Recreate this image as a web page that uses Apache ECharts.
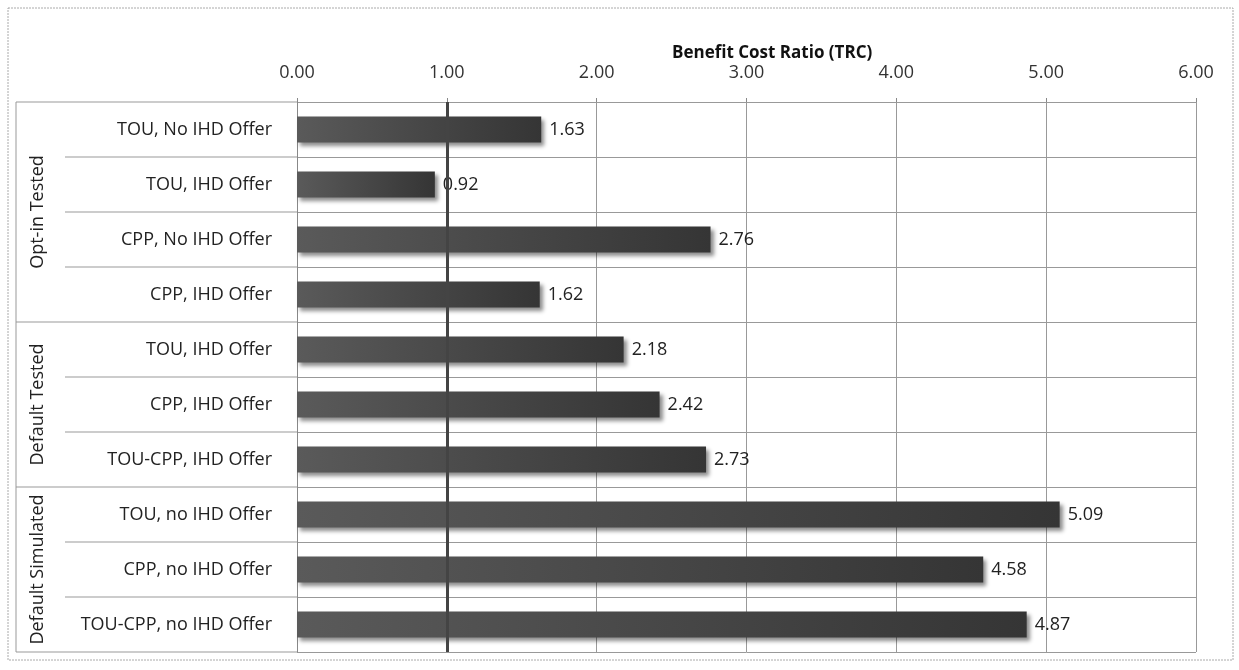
<!DOCTYPE html>
<html>
<head>
<meta charset="utf-8">
<script src="https://cdn.jsdelivr.net/npm/echarts@6/dist/echarts.min.js"></script>
<style>
  html, body { margin: 0; padding: 0; background: #fff; }
  #chart { width: 1239px; height: 670px; }
</style>
</head>
<body>
<div id="chart"></div>
<script>
// categories, top to bottom
var categories = [
  "TOU, No IHD Offer",
  "TOU, IHD Offer",
  "CPP, No IHD Offer",
  "CPP, IHD Offer",
  "TOU, IHD Offer ",
  "CPP, IHD Offer ",
  "TOU-CPP, IHD Offer",
  "TOU, no IHD Offer",
  "CPP, no IHD Offer",
  "TOU-CPP, no IHD Offer"
];
var ratios = [1.63, 0.92, 2.76, 1.62, 2.18, 2.42, 2.73, 5.09, 4.58, 4.87];
var groupNames = ["Opt-in Tested", "Default Tested", "Default Simulated"];
var groupSizes = [4, 3, 3];
var breakEven = 1;

var font = "'Open Sans', 'Noto Sans', sans-serif";
var myChart = echarts.init(document.getElementById("chart"));

myChart.setOption({
  animation: false,
  textStyle: { fontFamily: font },
  title: {
    text: "Benefit Cost Ratio (TRC)",
    left: 667,
    top: 40,
    textStyle: { fontSize: 17, fontWeight: "bold", color: "#111", fontFamily: font }
  },
  grid: { left: 297, right: 43, top: 102, bottom: 18 },
  xAxis: {
    type: "value",
    position: "top",
    min: 0,
    max: 6,
    interval: 1,
    axisLine: { show: false },
    axisTick: { show: true, length: 4, lineStyle: { color: "#888" } },
    axisLabel: {
      fontSize: 18,
      color: "#333",
      margin: 20,
      formatter: function (v) { return v.toFixed(2); }
    },
    splitLine: { show: true, lineStyle: { color: "#999", width: 1 } }
  },
  yAxis: {
    type: "category",
    inverse: true,
    data: categories,
    axisLine: { show: true, lineStyle: { color: "#888" } },
    axisTick: { show: false },
    axisLabel: {
      fontSize: 18,
      color: "#222",
      margin: 25,
      formatter: function (v) { return v.trim(); }
    },
    splitLine: { show: true, lineStyle: { color: "#999", width: 1 } }
  },
  series: [{
    type: "bar",
    data: ratios,
    barWidth: 26,
    itemStyle: {
      color: new echarts.graphic.LinearGradient(0, 0, 1, 0, [
        { offset: 0, color: "#5a5a5a" },
        { offset: 1, color: "#353535" }
      ]),
      shadowColor: "rgba(0,0,0,0.45)",
      shadowBlur: 4,
      shadowOffsetX: 3,
      shadowOffsetY: 3
    },
    label: {
      show: true,
      position: "right",
      distance: 8,
      fontSize: 18,
      color: "#222",
      formatter: function (p) { return p.value.toFixed(2); }
    },
    markLine: {
      silent: true,
      symbol: "none",
      label: { show: false },
      lineStyle: { color: "#444", width: 3, type: "solid" },
      data: [{ xAxis: breakEven }]
    }
  }]
});

// row/group separators and rotated group names in the label column
var gridTop = myChart.convertToPixel({ yAxisIndex: 0 }, 0);
var gridNext = myChart.convertToPixel({ yAxisIndex: 0 }, 1);
var band = gridNext - gridTop;
var plotLeft = myChart.convertToPixel({ xAxisIndex: 0 }, 0);
var first = gridTop - band / 2;
var elements = [];
var lineStyle = { stroke: "#999", lineWidth: 1 };

// outer frame
elements.push({
  type: "rect",
  shape: { x: 8, y: 8, width: 1225, height: 652 },
  style: { fill: null, stroke: "#aaa", lineWidth: 1, lineDash: [2, 1] },
  z: -1
});

// label column left edge
elements.push({
  type: "line",
  shape: { x1: 16, y1: first, x2: 16, y2: first + band * categories.length },
  style: lineStyle
});

var idx = 0;
groupSizes.forEach(function (size, g) {
  var y0 = first + idx * band;
  var y1 = y0 + size * band;
  elements.push({ type: "line", shape: { x1: 16, y1: y0, x2: plotLeft, y2: y0 }, style: lineStyle });
  for (var k = 1; k < size; k++) {
    var yy = y0 + k * band;
    elements.push({ type: "line", shape: { x1: 65, y1: yy, x2: plotLeft, y2: yy }, style: lineStyle });
  }
  elements.push({
    type: "text",
    x: 38,
    y: (y0 + y1) / 2,
    rotation: Math.PI / 2,
    style: {
      text: groupNames[g],
      fontSize: 18,
      fontFamily: font,
      fill: "#222",
      align: "center",
      verticalAlign: "middle"
    }
  });
  idx += size;
});
var yEnd = first + band * categories.length;
elements.push({ type: "line", shape: { x1: 16, y1: yEnd, x2: plotLeft, y2: yEnd }, style: lineStyle });

myChart.setOption({ graphic: elements });
</script>
</body>
</html>
